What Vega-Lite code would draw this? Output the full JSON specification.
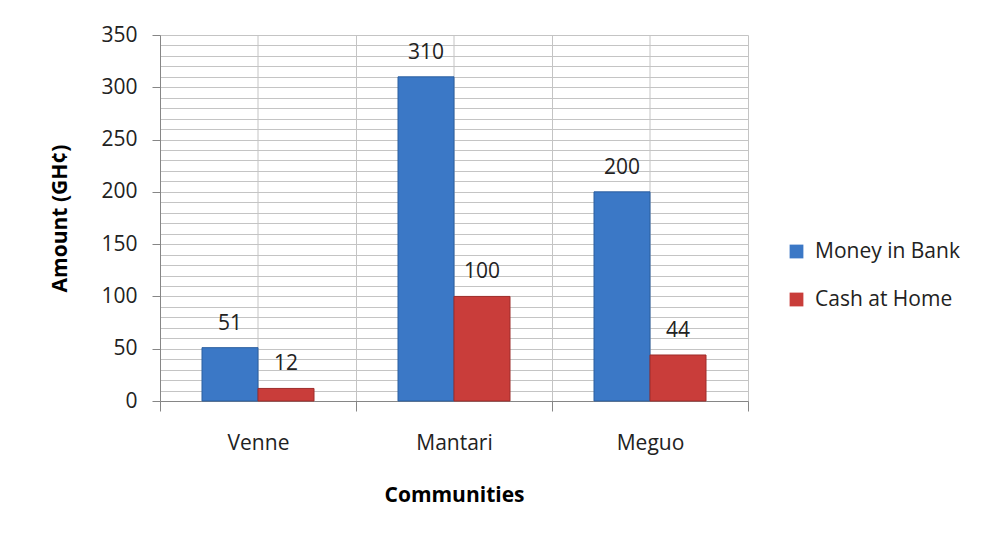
{
  "$schema": "https://vega.github.io/schema/vega-lite/v6.json",
  "width": 588,
  "height": 366,
  "autosize": {"type": "none"},
  "padding": {"left": 160, "top": 35, "right": 241, "bottom": 139},
  "background": "white",
  "config": {
    "font": "Open Sans",
    "view": {"stroke": null},
    "axis": {"labelColor": "#222222", "titleColor": "#000000", "domainColor": "#868686", "tickColor": "#868686", "gridColor": "#c4c4c4", "gridWidth": 1}
  },
  "datasets": {
    "amounts": [
      {"Community": "Venne", "Series": "Money in Bank", "Amount": 51},
      {"Community": "Venne", "Series": "Cash at Home", "Amount": 12},
      {"Community": "Mantari", "Series": "Money in Bank", "Amount": 310},
      {"Community": "Mantari", "Series": "Cash at Home", "Amount": 100},
      {"Community": "Meguo", "Series": "Money in Bank", "Amount": 200},
      {"Community": "Meguo", "Series": "Cash at Home", "Amount": 44}
    ],
    "communities": [
      {"Community": "Venne"},
      {"Community": "Mantari"},
      {"Community": "Meguo"}
    ]
  },
  "encoding": {
    "x": {"field": "Community", "type": "nominal", "sort": ["Venne", "Mantari", "Meguo"],
      "scale": {"paddingInner": 0, "paddingOuter": 0},
      "axis": {"title": "Communities", "titleFontSize": 21, "titleFontWeight": "bold", "titlePadding": 31, "labelFontSize": 21, "labelAngle": 0, "labelPadding": 21, "tickSize": 10, "tickBand": "extent", "grid": true}}
  },
  "layer": [
    {
      "data": {"name": "communities"},
      "mark": {"type": "rule", "color": "#c4c4c4", "strokeWidth": 1},
      "encoding": {
        "x": {"field": "Community", "type": "nominal", "sort": ["Venne", "Mantari", "Meguo"], "bandPosition": 0.5,
          "scale": {"paddingInner": 0, "paddingOuter": 0},
          "axis": {"title": "Communities", "titleFontSize": 21, "titleFontWeight": "bold", "titlePadding": 31, "labelFontSize": 21, "labelAngle": 0, "labelPadding": 21, "tickSize": 10, "tickBand": "extent", "grid": true}}
      }
    },
    {
      "data": {"name": "amounts"},
      "encoding": {
        "xOffset": {"field": "Series", "type": "nominal", "sort": ["Money in Bank", "Cash at Home"], "scale": {"paddingInner": 0, "paddingOuter": 0.75}},
        "y": {"field": "Amount", "type": "quantitative", "scale": {"domain": [0, 350], "nice": false},
          "axis": {"title": "Amount (GH¢)", "titleFontSize": 21, "titleFontWeight": "bold", "titlePadding": 30, "labelFontSize": 21, "labelPadding": 15, "tickSize": 8, "labelOverlap": false,
            "values": [0,10,20,30,40,50,60,70,80,90,100,110,120,130,140,150,160,170,180,190,200,210,220,230,240,250,260,270,280,290,300,310,320,330,340,350],
            "labelExpr": "datum.value % 50 === 0 ? datum.label : ''",
            "tickOpacity": {"condition": {"test": "datum.value % 50 === 0", "value": 1}, "value": 0},
            "grid": true}}
      },
      "layer": [
        {
          "mark": {"type": "bar", "strokeWidth": 1},
          "encoding": {
            "color": {"field": "Series", "type": "nominal", "sort": ["Money in Bank", "Cash at Home"],
              "scale": {"domain": ["Money in Bank", "Cash at Home"], "range": ["#3b78c6", "#c93d3a"]},
              "legend": {"title": null, "orient": "none", "legendX": 626, "legendY": 206, "labelFontSize": 21, "labelColor": "#222222", "symbolType": "square", "symbolSize": 190, "symbolStrokeWidth": 0, "rowPadding": 26, "labelOffset": 8, "padding": 0}},
            "stroke": {"field": "Series", "type": "nominal",
              "scale": {"domain": ["Money in Bank", "Cash at Home"], "range": ["#2b5e9f", "#9e2d2b"]},
              "legend": null}
          }
        },
        {
          "mark": {"type": "text", "fontSize": 21, "color": "#222222", "baseline": "bottom", "dy": -14},
          "encoding": {
            "text": {"field": "Amount", "type": "quantitative"}
          }
        }
      ]
    }
  ]
}
